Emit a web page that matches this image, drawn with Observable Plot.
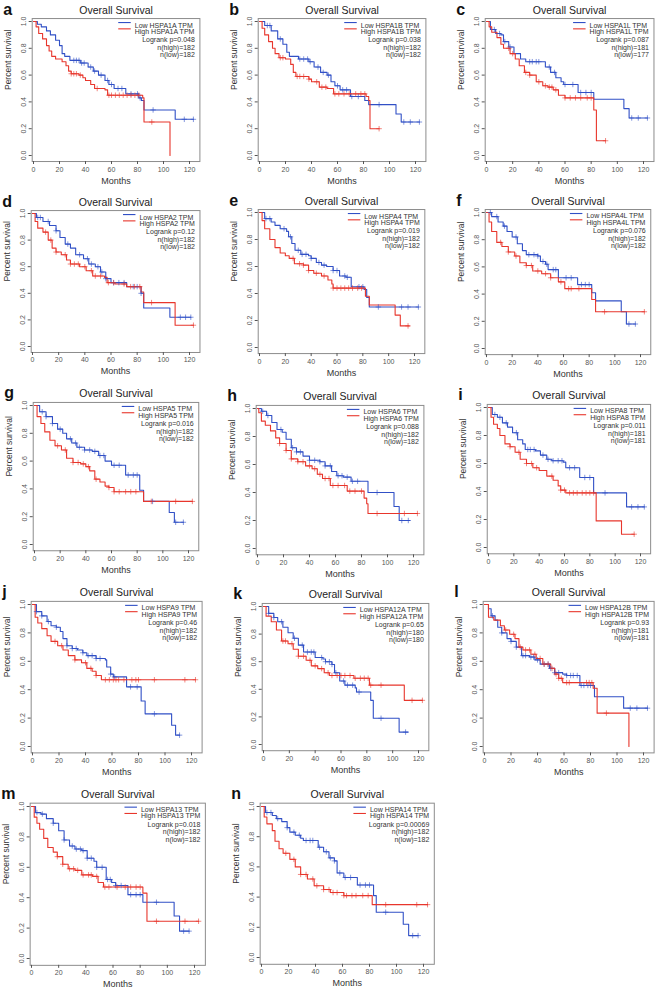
<!DOCTYPE html>
<html><head><meta charset="utf-8">
<script src="https://cdn.jsdelivr.net/npm/d3@7"></script>
<script src="https://cdn.jsdelivr.net/npm/@observablehq/plot@0.6"></script>
<style>
body{margin:0;background:#fff;}
#wrap{position:relative;width:656px;height:993px;overflow:hidden;background:#fff;}
#wrap svg{position:absolute;left:0;top:0;}
</style></head><body><div id="wrap"></div>
<script>
// ---------- data ----------
const panelLetters = ["a","b","c","d","e","f","g","h","i","j","k","l","m","n"];
const genes = ["HSPA1A","HSPA1B","HSPA1L","HSPA2","HSPA4","HSPA4L","HSPA5","HSPA6","HSPA8","HSPA9","HSPA12A","HSPA12B","HSPA13","HSPA14"];
const pValues = ["0.048","0.038","0.087","0.12","0.019","0.076","0.016","0.088","0.011","0.46","0.65","0.93","0.018","0.00069"];
const nHigh = [182,182,181,182,182,182,182,182,181,182,180,181,182,182];
const nLow  = [182,182,177,182,182,182,182,182,181,182,180,181,182,182];
const xTicks = [0,20,40,60,80,100,120];
const yTicks = [0,0.2,0.4,0.6,0.8,1.0];

// step curves: [month, survival after the step]
const lowA = [[0,1],[3,.98],[6,.96],[10,.93],[13,.9],[17,.86],[20,.82],[22,.76],[24,.74],[28,.71],[36,.69],[42,.66],[46,.63],[50,.6],[55,.56],[58,.53],[62,.5],[71,.46],[81,.43],[83,.41],[85,.34],[109,.27],[123,.27]];
const highA = [[0,1],[2,.96],[4,.91],[7,.87],[10,.82],[12,.78],[14,.74],[17,.72],[22,.7],[25,.67],[27,.63],[29,.61],[35,.6],[38,.58],[40,.56],[44,.53],[47,.5],[55,.49],[57,.45],[84,.43],[85,.25],[105,.25],[105,0]];
const lowB = [[0,1],[4,.97],[9,.93],[14,.87],[18,.83],[21,.77],[23,.74],[30,.72],[38,.7],[42,.66],[47,.62],[52,.6],[55,.55],[58,.52],[62,.49],[70,.44],[81,.41],[84,.38],[105,.31],[109,.25],[123,.25]];
const highB = [[0,1],[2,.95],[4,.9],[7,.85],[10,.8],[12,.76],[15,.73],[20,.72],[24,.68],[26,.62],[28,.59],[38,.57],[40,.55],[46,.51],[52,.5],[57,.46],[82,.44],[84,.41],[85,.2],[92,.2]];
const lowC = [[0,1],[3,.94],[7,.91],[11,.9],[13,.85],[17,.81],[21,.76],[26,.72],[30,.7],[43,.7],[45,.66],[49,.62],[53,.58],[57,.55],[59,.53],[70,.47],[82,.42],[105,.35],[109,.28],[123,.28]];
const highC = [[0,1],[2,.96],[4,.92],[8,.88],[11,.83],[13,.8],[18,.76],[22,.72],[25,.67],[29,.62],[33,.6],[38,.55],[43,.52],[47,.51],[51,.49],[55,.45],[60,.43],[81,.43],[82,.34],[84,.11],[91,.11]];
const lowD = [[0,1],[3,.97],[8,.94],[13,.91],[18,.87],[21,.82],[25,.77],[29,.74],[33,.69],[39,.66],[43,.62],[48,.6],[52,.56],[56,.51],[60,.48],[72,.45],[83,.4],[85,.29],[105,.22],[121,.22]];
const highD = [[0,1],[2,.94],[4,.89],[8,.86],[12,.8],[15,.74],[18,.71],[22,.69],[26,.65],[29,.62],[36,.6],[41,.57],[46,.53],[55,.52],[57,.48],[63,.47],[72,.45],[83,.41],[85,.33],[109,.16],[123,.16]];
const lowE = [[0,1],[4,.955],[9,.93],[12,.905],[16,.88],[21,.86],[22.5,.82],[25,.77],[27.5,.72],[32,.69],[38,.68],[40,.66],[44,.63],[48,.61],[52,.6],[57,.57],[62,.53],[67,.52],[71,.45],[81,.43],[83,.37],[85,.3],[123,.3]];
const highE = [[0,1],[2,.94],[4,.88],[8,.8],[12,.74],[16,.7],[20,.68],[23,.66],[27,.62],[34,.61],[38,.57],[42,.55],[48,.53],[53,.5],[56,.47],[57,.44],[82,.38],[85,.315],[105,.24],[109,.16],[116,.16]];
const lowF = [[0,1],[4,.97],[9,.93],[13,.9],[16,.86],[20,.82],[24,.77],[28,.72],[31,.69],[40,.68],[42,.64],[46,.62],[48,.58],[56,.52],[71,.47],[82,.41],[85,.35],[105,.27],[109,.18],[116,.18]];
const highF = [[0,1],[2,.93],[4,.86],[8,.78],[12,.75],[17,.71],[22,.68],[26,.63],[31,.61],[36,.57],[43,.55],[50,.52],[56,.49],[61,.44],[82,.36],[85,.27],[123,.27]];
const lowG = [[0,1],[4,.955],[9,.92],[14,.87],[18,.83],[22,.8],[25,.76],[29,.73],[33,.7],[39,.68],[45,.67],[50,.64],[55,.6],[60,.57],[71,.5],[82,.39],[85,.31],[105,.23],[109,.16],[116,.16]];
const highG = [[0,1],[2,.92],[5,.87],[8,.81],[12,.75],[16,.71],[21,.68],[25,.62],[30,.59],[36,.58],[40,.56],[43,.53],[47,.47],[51,.45],[55,.42],[58,.41],[62,.38],[85,.31],[123,.31]];
const lowH = [[0,1],[3,.98],[7,.95],[11,.9],[15,.85],[19,.83],[22,.78],[26,.72],[30,.69],[35,.66],[40,.63],[48,.62],[52,.59],[57,.55],[61,.52],[66,.51],[72,.48],[85,.4],[105,.3],[109,.2],[117,.2]];
const highH = [[0,1],[1,.97],[3,.91],[6,.88],[10,.84],[14,.79],[17,.75],[22,.7],[26,.64],[31,.62],[37,.59],[42,.57],[46,.53],[50,.5],[56,.45],[69,.41],[82,.36],[84,.32],[85,.25],[123,.25]];
const lowI = [[0,1],[3,.95],[7,.93],[11,.89],[15,.86],[19,.82],[23,.77],[27,.74],[29,.7],[37,.69],[41,.66],[46,.63],[50,.62],[59,.61],[61,.57],[72,.5],[83,.39],[109,.29],[123,.29]];
const highI = [[0,1],[2,.93],[4,.88],[7,.85],[9,.8],[13,.74],[17,.72],[21,.68],[25,.63],[30,.6],[35,.57],[40,.55],[46,.51],[51,.48],[55,.44],[57,.41],[61,.39],[85,.19],[105,.095],[115,.095]];
const lowJ = [[0,1],[3,.95],[7,.92],[11,.88],[14,.85],[18,.84],[21,.81],[23,.76],[26,.71],[30,.69],[34,.68],[38,.66],[41,.64],[48,.62],[55,.61],[56,.56],[59,.51],[61,.49],[71,.42],[82,.32],[85,.23],[105,.15],[108,.08],[111,.08]];
const highJ = [[0,1],[2,.91],[4,.87],[7,.83],[11,.78],[14,.74],[19,.71],[23,.68],[27,.64],[32,.61],[37,.59],[41,.55],[45,.53],[48,.5],[52,.47],[123,.47]];
const lowK = [[0,1],[4,.95],[8,.92],[11,.89],[15,.85],[19,.81],[23,.77],[27,.72],[31,.67],[40,.63],[46,.62],[48,.6],[53,.58],[55,.52],[59,.46],[63,.43],[71,.41],[72,.38],[83,.32],[85,.19],[105,.09],[112,.09]];
const highK = [[0,1],[2,.93],[6,.89],[10,.83],[14,.75],[19,.73],[23,.69],[27,.64],[33,.61],[37,.57],[42,.55],[47,.52],[51,.5],[70,.48],[82,.43],[109,.32],[123,.32]];
const lowL = [[0,1],[3,.97],[5,.92],[8,.89],[10,.84],[13,.8],[17,.76],[20,.74],[24,.7],[28,.64],[34,.63],[38,.61],[42,.58],[49,.55],[53,.52],[59,.51],[62,.5],[72,.43],[83,.35],[105,.27],[123,.27]];
const highL = [[0,1],[3,.91],[7,.89],[12,.85],[15,.82],[19,.79],[23,.76],[26,.7],[29,.68],[35,.65],[39,.62],[44,.58],[50,.55],[53,.51],[56,.48],[59,.45],[82,.41],[85,.235],[109,.235],[109,0]];
const lowM = [[0,1],[3,.96],[7,.95],[11,.92],[16,.89],[20,.84],[24,.78],[28,.74],[32,.72],[37,.71],[41,.66],[46,.64],[48,.6],[55,.52],[59,.5],[62,.48],[71,.42],[82,.37],[105,.28],[109,.18],[116,.18]];
const highM = [[0,1],[2,.93],[4,.89],[6,.85],[9,.79],[12,.73],[16,.7],[19,.67],[23,.62],[27,.59],[32,.58],[37,.55],[45,.54],[49,.5],[53,.47],[82,.43],[85,.245],[123,.245]];
const lowN = [[0,1],[3,.96],[8,.94],[11,.92],[15,.9],[19,.86],[21,.83],[25,.81],[29,.79],[31,.775],[40,.775],[42,.73],[46,.7],[50,.66],[54,.64],[56,.56],[61,.53],[71,.48],[83,.41],[85,.3],[105,.22],[109,.145],[116,.145]];
const highN = [[0,1],[2,.93],[4,.885],[8,.84],[10,.77],[13,.72],[16,.69],[21,.65],[25,.6],[29,.55],[34,.52],[39,.475],[46,.45],[51,.43],[61,.41],[82,.35],[123,.35]];

// censoring times (months)
const censLow = [
 [31,33,35,37,39,44,47,52,57,60,65,68,75,80,82,92,116,123],
 [6,8,16,31,34,37,39,45,49,53,60,64,67,71,76,92,111,116,123],
 [6,10,14,18,33,35,38,40,48,52,60,66,72,76,80,111,116,123],
 [4,6,12,18,27,36,42,45,50,53,56,62,66,70,77,80,83,113,117,121],
 [5,8,19,24,30,33,36,40,46,50,57,60,66,68,77,80,92,110,115,123],
 [3,8,14,23,33,37,40,44,47,52,54,62,66,74,77,80,111,116],
 [6,9,14,20,28,32,35,39,43,47,51,54,62,66,73,77,80,92,110,116],
 [4,8,18,27,30,33,40,44,48,52,56,62,65,69,73,77,92,111,116],
 [5,9,14,22,31,33,36,43,47,51,55,58,64,68,76,80,92,113,118,123],
 [3,7,12,18,26,30,33,38,42,45,48,51,59,62,74,79,92,111],
 [4,8,14,24,30,34,37,39,45,48,51,53,56,62,65,69,74,91,110],
 [6,13,20,24,29,31,35,37,40,45,48,50,53,56,62,65,67,70,73,75,78,80,110,115,123],
 [4,8,16,24,30,33,36,38,41,44,48,52,56,58,62,66,73,77,80,92,112,116],
 [4,7,12,19,24,28,33,36,38,43,48,51,54,58,62,66,73,77,80,92,112,116]
];
const censHigh = [
 [29,31,33,36,49,58,60,63,66,69,72,75,78,81,91],
 [16,18,29,31,34,38,44,48,51,58,61,65,69,74,78,81,92],
 [17,20,30,33,40,45,48,50,53,60,64,68,72,77,80,91],
 [10,14,18,25,29,32,35,40,45,48,52,58,62,70,75,78,82,91,123],
 [26,31,34,38,44,50,57,60,63,66,69,72,76,79,115],
 [11,17,23,31,35,40,46,50,58,64,66,72,92,123],
 [18,24,30,34,38,42,48,58,62,66,71,75,79,91,110,123],
 [17,22,26,31,35,40,44,48,52,55,58,62,67,71,75,80,92,113,123],
 [17,24,30,34,38,50,57,60,64,67,70,74,77,80,83,115],
 [17,22,32,40,44,48,55,58,61,63,65,69,75,78,80,92,115,123],
 [15,17,22,27,31,36,40,45,50,53,57,60,63,67,71,75,78,81,83,91,115,123],
 [16,22,27,31,34,38,42,45,48,51,54,56,58,62,64,77,79,81,92],
 [19,23,28,31,34,38,42,44,48,54,57,63,69,73,77,80,92,113,123],
 [18,24,29,33,38,41,46,50,53,56,61,63,67,70,75,79,92,115,123]
];
const lowCurves = [lowA,lowB,lowC,lowD,lowE,lowF,lowG,lowH,lowI,lowJ,lowK,lowL,lowM,lowN];
const highCurves = [highA,highB,highC,highD,highE,highF,highG,highH,highI,highJ,highK,highL,highM,highN];

// ---------- layout (pixel position of month 0 / 120 and survival 1 / 0) ----------
const layout = [
 {x0:33,x120:189,y1:21,y0:155},{x0:259,x120:415,y1:21,y0:155},{x0:486,x120:643,y1:21,y0:155},
 {x0:32,x120:189,y1:213,y0:346},{x0:259,x120:414,y1:212,y0:347},{x0:486,x120:640,y1:212,y0:348},
 {x0:34,x120:188,y1:405,y0:544},{x0:257,x120:413,y1:408,y0:548},{x0:488,x120:640,y1:407,y0:547},
 {x0:32,x120:191,y1:604,y0:746},{x0:263,x120:418,y1:606,y0:744},{x0:484,x120:643,y1:604,y0:746},
 {x0:31,x120:194,y1:806,y0:958},{x0:261,x120:423,y1:806,y0:957}
];

const BLUE = "#3150c6", RED = "#e8362c";
const FONT = "'Liberation Sans', Arial, Helvetica, sans-serif";
const W = 656, H = 993;
const XD = [-1, 128], YD = [-0.045, 1.022];

const ctx = document.createElement("canvas").getContext("2d");
ctx.font = "7px 'Liberation Sans'";
const tw = s => ctx.measureText(s).width;

function stepAt(curve, t) {
  let v = curve[0][1];
  for (const [ti, si] of curve) { if (ti <= t) v = si; else break; }
  return v;
}

const wrap = document.getElementById("wrap");
panelLetters.forEach((letter, i) => {
  const L = layout[i];
  const kx = (L.x120 - L.x0) / 120, ky = L.y0 - L.y1;
  const left = L.x0 + XD[0] * kx, right = L.x0 + XD[1] * kx;
  const top = L.y0 - YD[1] * ky, bottom = L.y0 - YD[0] * ky;
  const pxToX = px => (px - L.x0) / kx;
  const pyToY = py => (L.y0 - py) / ky;

  const low = lowCurves[i].map(([t, s]) => ({t, s}));
  const high = highCurves[i].map(([t, s]) => ({t, s}));
  const cl = censLow[i].map(t => ({t, s: stepAt(lowCurves[i], t)}));
  const ch = censHigh[i].map(t => ({t, s: stepAt(highCurves[i], t)}));

  const lowLab = `Low ${genes[i]} TPM`, highLab = `High ${genes[i]} TPM`;
  const legW = Math.max(tw(lowLab), tw(highLab));
  const textStart = right - 5 - legW;
  const legLow = [{y: pyToY(top + 4), x1: pxToX(textStart - 16), x2: pxToX(textStart - 3.5)}];
  const legHigh = [{y: pyToY(top + 10.3), x1: pxToX(textStart - 16), x2: pxToX(textStart - 3.5)}];

  const plot = Plot.plot({
    width: W, height: H,
    marginLeft: left, marginRight: W - right, marginTop: top, marginBottom: H - bottom,
    x: {domain: XD}, y: {domain: YD},
    style: {background: "transparent", overflow: "visible", fontFamily: FONT, color: "#333"},
    marks: [
      Plot.frame({stroke: "#8c8c8c"}),
      Plot.axisX({ticks: xTicks, tickSize: 3, tickPadding: 2, fontSize: 7, label: null, color: "#555"}),
      Plot.axisY({ticks: yTicks, tickFormat: d => d.toFixed(1), tickRotate: -90, tickSize: 3, tickPadding: 3, fontSize: 7, label: null, color: "#555"}),
      Plot.line(low, {x: "t", y: "s", curve: "step-after", stroke: BLUE, strokeWidth: 1.1}),
      Plot.line(high, {x: "t", y: "s", curve: "step-after", stroke: RED, strokeWidth: 1.1}),
      Plot.dot(cl, {x: "t", y: "s", symbol: "plus", r: 1.9, stroke: BLUE, strokeOpacity: 0.6, strokeWidth: 1}),
      Plot.dot(ch, {x: "t", y: "s", symbol: "plus", r: 1.9, stroke: RED, strokeOpacity: 0.6, strokeWidth: 1}),
      Plot.text(["Overall Survival"], {frameAnchor: "top", dy: -5, lineAnchor: "bottom", fontSize: 10.5, fill: "#222"}),
      Plot.text([letter], {frameAnchor: "top-left", dx: -29, dy: -4, lineAnchor: "bottom", textAnchor: "start", fontSize: 16, fontWeight: "bold", fill: "#111"}),
      Plot.text(["Percent survival"], {frameAnchor: "left", rotate: -90, dx: -24, fontSize: 8.5, fill: "#333"}),
      Plot.text(["Months"], {frameAnchor: "bottom", dy: 22, fontSize: 9, fill: "#333"}),
      Plot.ruleY(legLow, {y: "y", x1: "x1", x2: "x2", stroke: BLUE, strokeWidth: 1.1}),
      Plot.ruleY(legHigh, {y: "y", x1: "x1", x2: "x2", stroke: RED, strokeWidth: 1.1}),
      Plot.text([lowLab], {frameAnchor: "top-right", dx: -(5 + legW), dy: 4, textAnchor: "start", fontSize: 7, fill: "#333"}),
      Plot.text([highLab], {frameAnchor: "top-right", dx: -(5 + legW), dy: 10.3, textAnchor: "start", fontSize: 7, fill: "#333"}),
      Plot.text([`Logrank p=${pValues[i]}`], {frameAnchor: "top-right", dx: -5, dy: 18.7, textAnchor: "end", fontSize: 7, fill: "#333"}),
      Plot.text([`n(high)=${nHigh[i]}`], {frameAnchor: "top-right", dx: -5, dy: 26.2, textAnchor: "end", fontSize: 7, fill: "#333"}),
      Plot.text([`n(low)=${nLow[i]}`], {frameAnchor: "top-right", dx: -5, dy: 33.8, textAnchor: "end", fontSize: 7, fill: "#333"})
    ]
  });
  wrap.appendChild(plot);
});
</script>
</body></html>
